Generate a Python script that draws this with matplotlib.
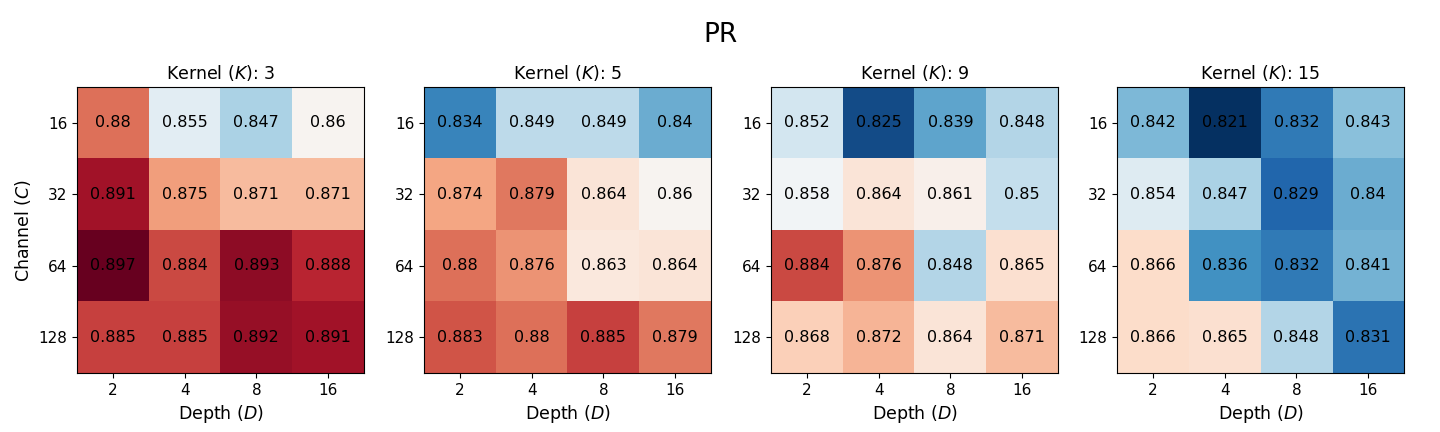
import numpy as np
import matplotlib
matplotlib.use('Agg')
import matplotlib.pyplot as plt

depths = ['2', '4', '8', '16']
channels = ['16', '32', '64', '128']
kernels = [3, 5, 9, 15]

pr_k3 = [[0.88, 0.855, 0.847, 0.86],
         [0.891, 0.875, 0.871, 0.871],
         [0.897, 0.884, 0.893, 0.888],
         [0.885, 0.885, 0.892, 0.891]]
pr_k5 = [[0.834, 0.849, 0.849, 0.84],
         [0.874, 0.879, 0.864, 0.86],
         [0.88, 0.876, 0.863, 0.864],
         [0.883, 0.88, 0.885, 0.879]]
pr_k9 = [[0.852, 0.825, 0.839, 0.848],
         [0.858, 0.864, 0.861, 0.85],
         [0.884, 0.876, 0.848, 0.865],
         [0.868, 0.872, 0.864, 0.871]]
pr_k15 = [[0.842, 0.821, 0.832, 0.843],
          [0.854, 0.847, 0.829, 0.84],
          [0.866, 0.836, 0.832, 0.841],
          [0.866, 0.865, 0.848, 0.831]]

all_pr = [pr_k3, pr_k5, pr_k9, pr_k15]
vmin = min(np.min(a) for a in all_pr)
vmax = max(np.max(a) for a in all_pr)

fig = plt.figure(figsize=(14.4, 4.32), dpi=100)
fig.suptitle('PR', fontsize=19, y=0.95)

lefts = [77, 424, 771, 1117]
for i, (k, data) in enumerate(zip(kernels, all_pr)):
    ax = fig.add_axes([lefts[i] / 1440, 1 - 373 / 432, 287 / 1440, 286 / 432])
    data = np.array(data)
    ax.imshow(data, cmap='RdBu_r', vmin=vmin, vmax=vmax, aspect='auto')
    for r in range(data.shape[0]):
        for c in range(data.shape[1]):
            ax.text(c, r, '%g' % data[r, c], ha='center', va='center',
                    fontsize=11.5, color='black')
    ax.set_xticks(range(len(depths)))
    ax.set_xticklabels(depths, fontsize=11)
    ax.set_yticks(range(len(channels)))
    ax.set_yticklabels(channels, fontsize=11)
    ax.set_title('Kernel ($K$): %d' % k, fontsize=12.5)
    ax.set_xlabel('Depth ($D$)', fontsize=12.5)
    if i == 0:
        ax.set_ylabel('Channel ($C$)', fontsize=12.5)

plt.savefig('out.png', dpi=100)
